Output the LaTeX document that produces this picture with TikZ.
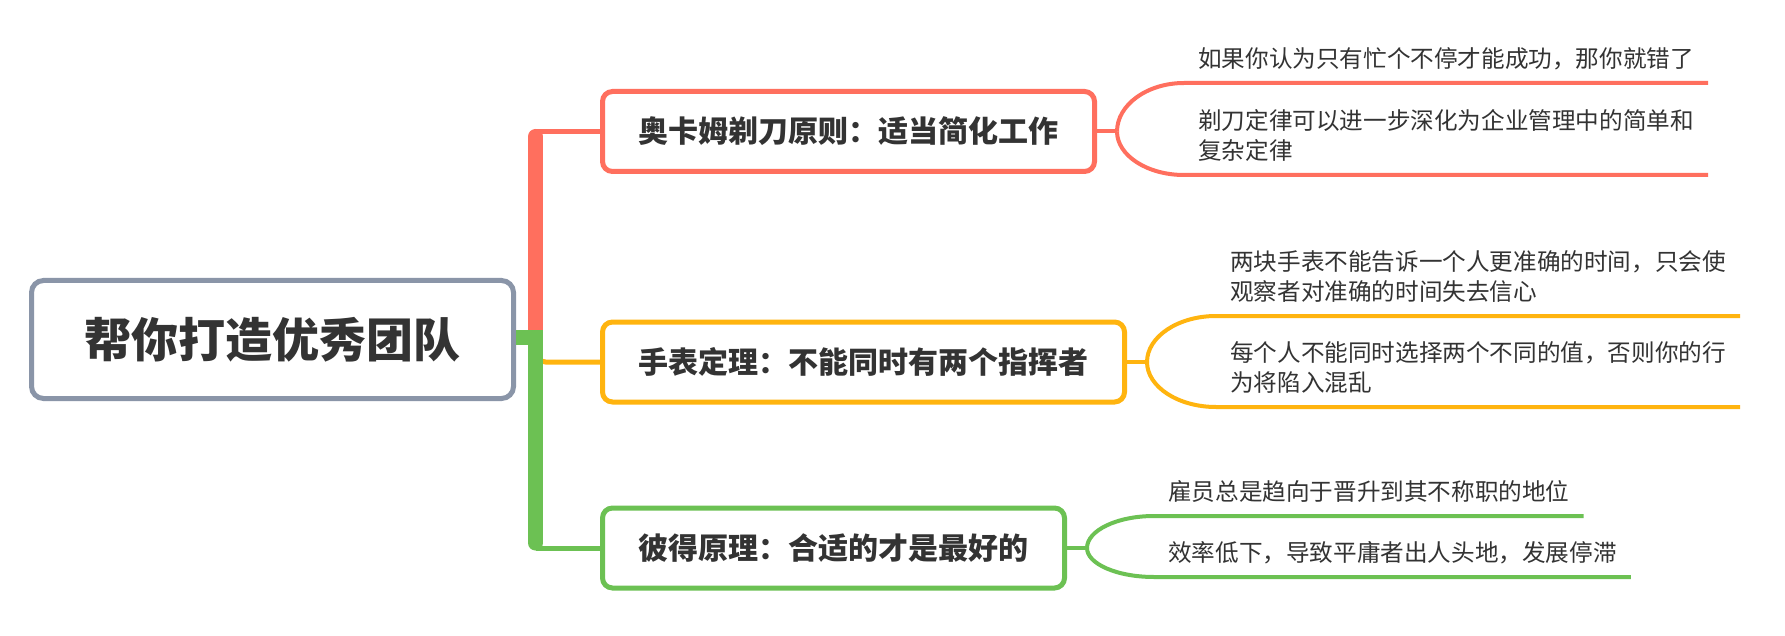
\documentclass[tikz,border=0pt]{standalone}
\usepackage{fontspec}
\newfontfamily\cjk{Noto Sans CJK SC}
\usetikzlibrary{calc}
\definecolor{razor}{HTML}{FF6F5E}
\definecolor{watch}{HTML}{FFB40F}
\definecolor{peter}{HTML}{6CC153}
\definecolor{rootline}{HTML}{8A95A8}
\definecolor{ink}{HTML}{333333}
\tikzset{
  rootbox/.style={draw=rootline, line width=5pt, rounded corners=12pt, fill=white, text=ink,
    font=\cjk\bfseries\fontsize{47}{56}\selectfont, inner xsep=53pt, minimum height=118pt},
  topic/.style={draw=#1, line width=5pt, rounded corners=10pt, fill=white, text=ink,
    font=\cjk\bfseries\fontsize{30}{36}\selectfont, inner xsep=36pt, minimum height=80pt, anchor=west},
  leaf/.style={text=ink, font=\cjk\fontsize{23.6}{30}\selectfont, align=left,
    inner xsep=14pt, inner ysep=15.5pt, text depth=0pt, anchor=south west},
  trunk/.style={line width=15pt},
  twig/.style={line width=5pt},
  under/.style={line width=4pt},
}

\begin{document}
\begin{tikzpicture}[x=1pt, y=-1pt]
\fill[white] (0,0) rectangle (1785,636);
\useasboundingbox (0,0) rectangle (1785,636);

% Define nodes
\node[rootbox]            (root)  at (272.5,339.5) {帮你打造优秀团队};
\node[topic=razor]        (okm)   at (600,131.5)   {奥卡姆剃刀原则：适当简化工作};
\node[topic=watch]        (watch) at (600,362)     {手表定理：不能同时有两个指挥者};
\node[topic=peter]        (peter) at (600,548)     {彼得原理：合适的才是最好的};

\node[leaf] (okm1)   at (1184,83)  {如果你认为只有忙个不停才能成功，那你就错了};
\node[leaf] (okm2)   at (1184,175) {剃刀定律可以进一步深化为企业管理中的简单和\\复杂定律};
\node[leaf] (watch1) at (1216,316) {两块手表不能告诉一个人更准确的时间，只会使\\观察者对准确的时间失去信心};
\node[leaf] (watch2) at (1216,407) {每个人不能同时选择两个不同的值，否则你的行\\为将陷入混乱};
\node[leaf] (peter1) at (1154,516) {雇员总是趋向于晋升到其不称职的地位};
\node[leaf] (peter2) at (1154,577) {效率低下，导致平庸者出人头地，发展停滞};

\coordinate (fork)   at (535.5,337.5);
\coordinate (okmj)   at ($(okm.east)+(20,0)$);
\coordinate (watchj) at ($(watch.east)+(20,0)$);
\coordinate (peterj) at ($(peter.east)+(20,0)$);

% Connect the nodes
\draw[watch, twig, rounded corners=10pt] (fork) |- (watch.west);
\draw[razor, trunk, line cap=round] ($(fork)+(0,-7.5)$) -- ($(fork |- okm.west)+(0,5)$);
\draw[razor, twig] (fork |- okm.west) -- (okm.west);
\draw[peter, trunk, line cap=round] (fork) -- ($(fork |- peter.west)+(0,-5)$);
\draw[peter, twig] (fork |- peter.west) -- (peter.west);
\draw[peter, trunk] (root.east |- fork) -- ($(fork)+(7.5,0)$);

\draw[razor, under] (okm.east) -- (okmj);
\draw[watch, under] (watch.east) -- (watchj);
\draw[peter, under] (peter.east) -- (peterj);

% Brackets and underlines
\foreach \c/\j/\l in {razor/okmj/okm1, razor/okmj/okm2, watch/watchj/watch1,
                      watch/watchj/watch2, peter/peterj/peter1, peter/peterj/peter2} {
  \draw[\c, under] (\j) .. controls ($(\j)!0.55!(\j |- \l.south west)$)
    and ($(\l.south west)!0.55!(\j |- \l.south west)$) .. (\l.south west)
    -- (\l.south east);
}

\end{tikzpicture}
\end{document}
